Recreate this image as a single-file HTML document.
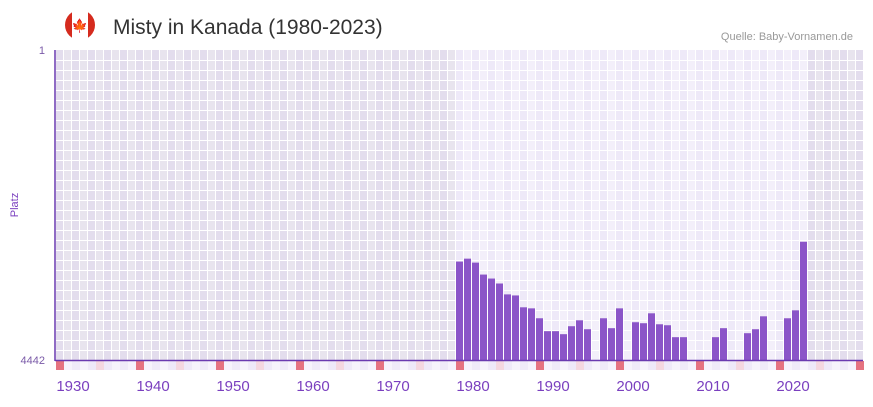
<!DOCTYPE html>
<html><head><meta charset="utf-8"><style>
body{margin:0;width:873px;height:402px;background:#fff;overflow:hidden;font-family:"Liberation Sans",sans-serif}
</style></head><body>
<svg id="c" width="873" height="402" xmlns="http://www.w3.org/2000/svg">
<g>
<circle cx="80" cy="25" r="15" fill="#d52b1e"/>
<rect x="72" y="10" width="16" height="30" fill="#fff"/>
<text x="80" y="30" font-size="13" fill="#d52b1e" text-anchor="middle">🍁</text>
</g>
<text x="113" y="34" font-size="21" fill="#333">Misty in Kanada (1980-2023)</text>
<text x="853" y="40" font-size="11" fill="#999" text-anchor="end">Quelle: Baby-Vornamen.de</text>
<text x="45" y="54" font-size="11" fill="#7a5aa8" text-anchor="end">1</text>
<text x="45" y="364" font-size="11" fill="#7a5aa8" text-anchor="end">4442</text>
<text transform="translate(18,205) rotate(-90)" font-size="11" fill="#7a3fbf" text-anchor="middle">Platz</text>
<g id="bg"></g><g id="bars"></g><g id="labels"></g>
<line x1="55" y1="50" x2="55" y2="361" stroke="#6a3ab0" stroke-width="1.5"/>
<line x1="55" y1="360.5" x2="863" y2="360.5" stroke="#6a3ab0" stroke-width="1.5"/>
</svg>
<script>
const years=[1980,1981,1982,1983,1984,1985,1986,1987,1988,1989,1990,1991,1992,1993,1994,1995,1996,1997,1998,1999,2000,2001,2002,2003,2004,2005,2006,2007,2008,2009,2010,2011,2012,2013,2014,2015,2016,2017,2018,2019,2020,2021,2022,2023];
const ranks=[3032,2990,3047,3218,3275,3346,3502,3517,3687,3702,3844,4029,4029,4072,3958,3873,4001,null,3844,3986,3702,null,3901,3915,3773,3930,3944,4115,4115,null,null,null,4115,3986,null,null,4058,4001,3816,null,null,3844,3730,2748];
const tickYears=[1930,1940,1950,1960,1970,1980,1990,2000,2010,2020];
const firstYear=1930,lastYear=2030,minRank=1,maxRank=4442;
const NS="http://www.w3.org/2000/svg";
const L=56,CW=8,TOP=50,BOT=360;
const xs=y=>L+(y-firstYear)*CW;
const ys=r=>TOP+(r-minRank)/(maxRank-minRank)*(BOT-TOP);
function mk(t,a,p){const e=document.createElementNS(NS,t);for(const k in a)e.setAttribute(k,a[k]);p.appendChild(e);return e;}
const bg=document.getElementById('bg');
const nC=(lastYear-firstYear)+1;
for(let i=0;i<nC;i++){const yr=firstYear+i;const inR=yr>=years[0]&&yr<=years[years.length-1];
const col=inR?(i%2?'#f3effa':'#eee9f8'):(i%2?'#e8e4ee':'#e3dded');
const r=mk('rect',{x:L+i*CW,y:TOP,width:CW,height:BOT-TOP,fill:col},bg);


const m=i%10;const sc=m==0?'#e57380':(m==5?'#f5d8e0':(i%2?'#f6f3fc':'#efeaf9'));
const s=mk('rect',{x:L+i*CW,y:361,width:CW,height:9,fill:sc},bg);


mk('line',{x1:L+i*CW+CW-0.5,y1:TOP,x2:L+i*CW+CW-0.5,y2:BOT,stroke:'#fff','stroke-width':1},bg);}
for(let y=TOP+10;y<BOT;y+=10)mk('line',{x1:L,y1:y+0.5,x2:L+nC*CW,y2:y+0.5,stroke:'#fff','stroke-width':1},bg);
const bars=document.getElementById('bars');
years.forEach((yr,i)=>{if(ranks[i]==null)return;const t=ys(ranks[i]);
const b=mk('rect',{x:xs(yr),y:t,width:CW-1,height:BOT-t,fill:'#8b55c8'},bars);

});
const lb=document.getElementById('labels');
tickYears.forEach(yr=>{const t=mk('text',{x:xs(yr)+17,y:391,'font-size':15,fill:'#7a3fbf','text-anchor':'middle'},lb);t.textContent=yr;

});
</script>
</body></html>
